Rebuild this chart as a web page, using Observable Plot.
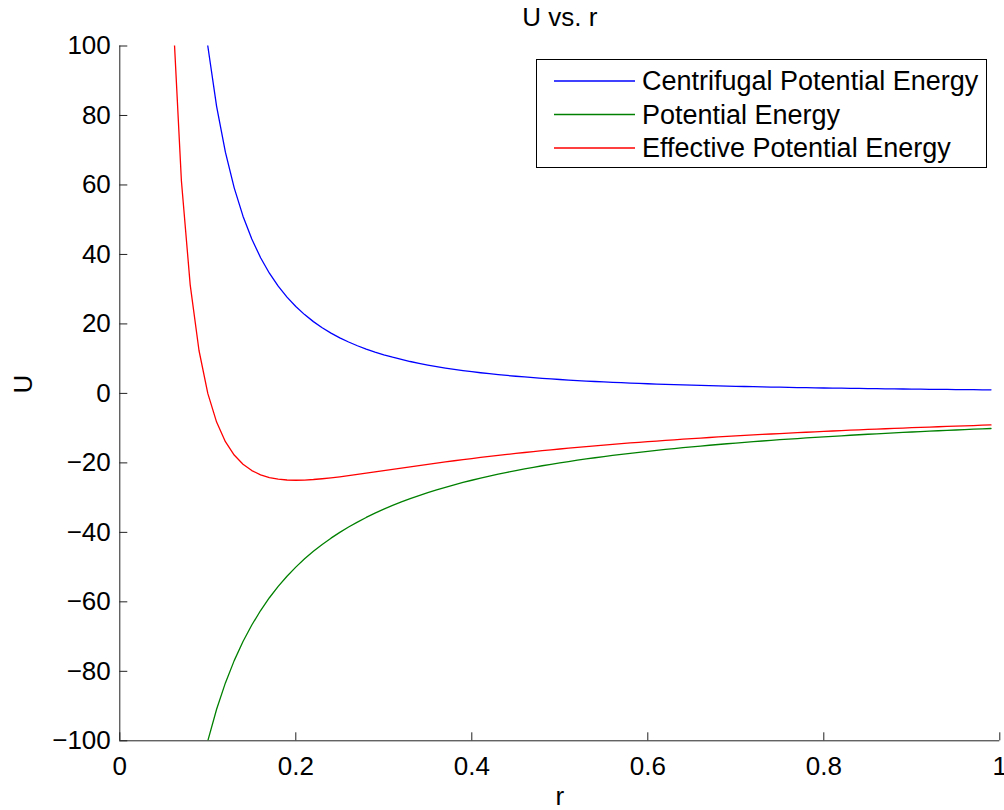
<!DOCTYPE html>
<html>
<head>
<meta charset="utf-8">
<script src="https://cdn.jsdelivr.net/npm/d3@7"></script>
<script src="https://cdn.jsdelivr.net/npm/@observablehq/plot@0.6"></script>
<style>
  body { margin: 0; background: #fff; }
  #wrap { position: relative; width: 1004px; height: 810px; overflow: hidden; font-family: "Liberation Sans", Arial, sans-serif; }
  #legend { position: absolute; left: 536px; top: 59px; width: 451px; height: 109px; box-sizing: border-box; border: 1px solid #000; background: #fff; }
  #legend svg { position: absolute; left: 0; top: 0; }
</style>
</head>
<body>
<div id="wrap"></div>
<script>
// Radius values (sampled every 0.01)
const r = [0.06,0.07,0.08,0.09,0.10,0.11,0.12,0.13,0.14,0.15,0.16,0.17,0.18,0.19,0.20,0.21,0.22,0.23,0.24,0.25,0.26,0.27,0.28,0.29,0.30,0.31,0.32,0.33,0.34,0.35,0.36,0.37,0.38,0.39,0.40,0.41,0.42,0.43,0.44,0.45,0.46,0.47,0.48,0.49,0.50,0.51,0.52,0.53,0.54,0.55,0.56,0.57,0.58,0.59,0.60,0.61,0.62,0.63,0.64,0.65,0.66,0.67,0.68,0.69,0.70,0.71,0.72,0.73,0.74,0.75,0.76,0.77,0.78,0.79,0.80,0.81,0.82,0.83,0.84,0.85,0.86,0.87,0.88,0.89,0.90,0.91,0.92,0.93,0.94,0.95,0.96,0.97,0.98,0.99];

const centrifugal = [277.78,204.08,156.25,123.46,100.00,82.64,69.44,59.17,51.02,44.44,39.06,34.60,30.86,27.70,25.00,22.68,20.66,18.90,17.36,16.00,14.79,13.72,12.76,11.89,11.11,10.41,9.77,9.18,8.65,8.16,7.72,7.30,6.93,6.57,6.25,5.95,5.67,5.41,5.17,4.94,4.73,4.53,4.34,4.16,4.00,3.84,3.70,3.56,3.43,3.31,3.19,3.08,2.97,2.87,2.78,2.69,2.60,2.52,2.44,2.37,2.30,2.23,2.16,2.10,2.04,1.98,1.93,1.88,1.83,1.78,1.73,1.69,1.64,1.60,1.56,1.52,1.49,1.45,1.42,1.38,1.35,1.32,1.29,1.26,1.23,1.21,1.18,1.16,1.13,1.11,1.09,1.06,1.04,1.02];

const potential = [-166.67,-142.86,-125.00,-111.11,-100.00,-90.91,-83.33,-76.92,-71.43,-66.67,-62.50,-58.82,-55.56,-52.63,-50.00,-47.62,-45.45,-43.48,-41.67,-40.00,-38.46,-37.04,-35.71,-34.48,-33.33,-32.26,-31.25,-30.30,-29.41,-28.57,-27.78,-27.03,-26.32,-25.64,-25.00,-24.39,-23.81,-23.26,-22.73,-22.22,-21.74,-21.28,-20.83,-20.41,-20.00,-19.61,-19.23,-18.87,-18.52,-18.18,-17.86,-17.54,-17.24,-16.95,-16.67,-16.39,-16.13,-15.87,-15.63,-15.38,-15.15,-14.93,-14.71,-14.49,-14.29,-14.08,-13.89,-13.70,-13.51,-13.33,-13.16,-12.99,-12.82,-12.66,-12.50,-12.35,-12.20,-12.05,-11.90,-11.76,-11.63,-11.49,-11.36,-11.24,-11.11,-10.99,-10.87,-10.75,-10.64,-10.53,-10.42,-10.31,-10.20,-10.10];

const effective = [111.11,61.22,31.25,12.35,0.00,-8.26,-13.89,-17.75,-20.41,-22.22,-23.44,-24.22,-24.69,-24.93,-25.00,-24.94,-24.79,-24.57,-24.31,-24.00,-23.67,-23.32,-22.96,-22.59,-22.22,-21.85,-21.48,-21.12,-20.76,-20.41,-20.06,-19.72,-19.39,-19.07,-18.75,-18.44,-18.14,-17.85,-17.56,-17.28,-17.01,-16.75,-16.49,-16.24,-16.00,-15.76,-15.53,-15.31,-15.09,-14.88,-14.67,-14.47,-14.27,-14.08,-13.89,-13.71,-13.53,-13.35,-13.18,-13.02,-12.86,-12.70,-12.54,-12.39,-12.24,-12.10,-11.96,-11.82,-11.69,-11.56,-11.43,-11.30,-11.18,-11.06,-10.94,-10.82,-10.71,-10.60,-10.49,-10.38,-10.27,-10.17,-10.07,-9.97,-9.88,-9.78,-9.69,-9.60,-9.50,-9.42,-9.33,-9.25,-9.16,-9.08];

const seriesNames = ["Centrifugal Potential Energy", "Potential Energy", "Effective Potential Energy"];
const seriesColors = ["#0000ff", "#008000", "#ff0000"];
const seriesValues = [centrifugal, potential, effective];

const xTicks = [0, 0.2, 0.4, 0.6, 0.8, 1];
const yTicks = [-100, -80, -60, -40, -20, 0, 20, 40, 60, 80, 100];

const titleText = "U vs. r";
const xLabel = "r";
const yLabel = "U";

const rows = [];
seriesValues.forEach((vals, i) => {
  vals.forEach((u, j) => rows.push({ r: r[j], u, series: seriesNames[i] }));
});

const FONT = "Liberation Sans, Arial, sans-serif";
const FS = 26;
const fmt = d3.format("~g");

const chart = Plot.plot({
  width: 1004,
  height: 810,
  marginTop: 45.5,
  marginBottom: 69.7,
  marginLeft: 119.3,
  marginRight: 4.7,
  style: { fontFamily: FONT, fontSize: FS + "px", color: "#000", background: "#fff", overflow: "visible" },
  x: { domain: [0, 1] },
  y: { domain: [-100, 100] },
  color: { domain: seriesNames, range: seriesColors },
  marks: [
    Plot.ruleX([0], { stroke: "#222", strokeWidth: 1 }),
    Plot.ruleY([-100], { stroke: "#222", strokeWidth: 1 }),
    Plot.axisX(xTicks, { tickSize: -8, tickPadding: 24, fontSize: FS, label: null, tickFormat: fmt, stroke: "#222", strokeOpacity: 1 }),
    Plot.axisY(yTicks, { tickSize: -8, tickPadding: 17, fontSize: FS, label: null, tickFormat: fmt, stroke: "#222", strokeOpacity: 1 }),
    Plot.line(rows, { x: "r", y: "u", z: "series", stroke: "series", strokeWidth: 1.3, clip: true }),
    Plot.text([titleText], { frameAnchor: "top", lineAnchor: "bottom", dy: -20.5, fontSize: FS, fill: "#000" }),
    Plot.text([xLabel], { frameAnchor: "bottom", lineAnchor: "bottom", dy: 64.5, fontSize: FS, fill: "#000" }),
    Plot.text([yLabel], { frameAnchor: "left", lineAnchor: "bottom", rotate: -90, dx: -87.8, fontSize: FS, fill: "#000" })
  ]
});

const wrap = document.getElementById("wrap");
wrap.appendChild(chart);

// Legend (MATLAB-style box)
const legend = document.createElement("div");
legend.id = "legend";
wrap.appendChild(legend);
const lsvg = d3.select(legend).append("svg").attr("width", 451).attr("height", 109);
const rowY = [21, 54.5, 88];
seriesNames.forEach((name, i) => {
  lsvg.append("line").attr("x1", 17).attr("x2", 98).attr("y1", rowY[i]).attr("y2", rowY[i])
    .attr("stroke", seriesColors[i]).attr("stroke-width", 1.3);
  lsvg.append("text").attr("x", 105).attr("y", rowY[i]).attr("dy", "0.35em")
    .attr("font-family", FONT).attr("font-size", 27).attr("fill", "#000").text(name);
});
</script>
</body>
</html>
